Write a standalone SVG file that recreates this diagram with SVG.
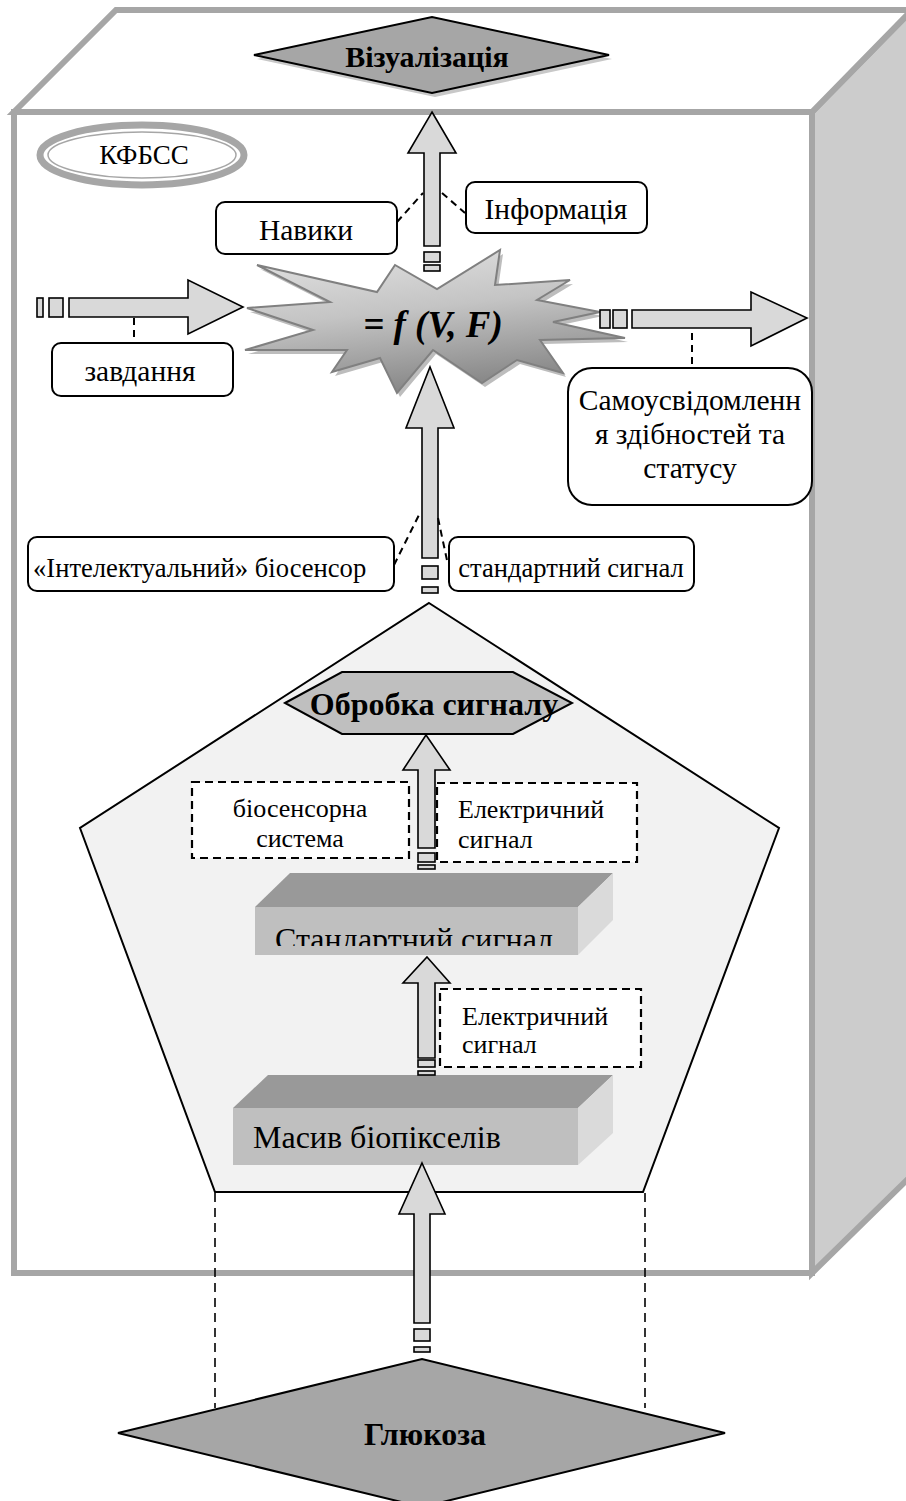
<svg xmlns="http://www.w3.org/2000/svg" width="906" height="1501" viewBox="0 0 906 1501" font-family="'Liberation Serif', 'DejaVu Serif', serif">
<style>
text{font-family:'Liberation Serif','DejaVu Serif',serif;fill:#000}
.lbl{font-size:29.5px;text-anchor:middle}
.sm{font-size:26.6px}
.d{font-size:26px}
.b{font-weight:bold}
.box{fill:#fff;stroke:#000;stroke-width:2}
.dbox{fill:#fff;stroke:#000;stroke-width:2.2;stroke-dasharray:8,5}
.arr{fill:#d9d9d9;stroke:#000;stroke-width:1.6}
.dash{fill:none;stroke:#000;stroke-width:2;stroke-dasharray:7,5}
.dashthin{fill:none;stroke:#000;stroke-width:1.6;stroke-dasharray:9,6}
.frame{stroke:#a6a6a6;stroke-width:6;stroke-linejoin:miter}
</style>
<defs>
<linearGradient id="starg" x1="0" y1="0" x2="0.3" y2="1">
<stop offset="0" stop-color="#e4e4e4"/>
<stop offset="0.5" stop-color="#c4c4c4"/>
<stop offset="1" stop-color="#8a8a8a"/>
</linearGradient>
<clipPath id="clipStd"><rect x="255" y="907" width="323" height="39"/></clipPath>
</defs>

<g id="frame">
<polygon class="frame" points="812,112 912,10 912,1175 812,1273" fill="#cccccc"/>
<polygon class="frame" points="116,10 912,10 812,112 14,112" fill="#ffffff"/>
<rect class="frame" x="14" y="112" width="798" height="1161" fill="#ffffff"/>
</g>

<g id="vizualizatsiya">
<polygon points="257,59 435,21 612,59 435,97" fill="#c8c8c8"/>
<polygon points="254,55 432,17 609,55 432,93" fill="#a6a6a6" stroke="#000" stroke-width="2"/>
<text class="b" x="427" y="67" font-size="30" text-anchor="middle">Візуалізація</text>
</g>

<g id="kfbss">
<ellipse cx="142" cy="155" rx="102" ry="30" fill="#fff" stroke="#a6a6a6" stroke-width="7"/>
<ellipse cx="142" cy="155" rx="94" ry="23" fill="none" stroke="#a6a6a6" stroke-width="1.5"/>
<text x="144" y="164" font-size="27" text-anchor="middle">КФБСС</text>
</g>

<g id="pentagon">
<polygon points="429,603 779,828 643,1192 215,1192 80,828" fill="#f2f2f2" stroke="#000" stroke-width="2"/>
</g>

<g id="star">
<polygon transform="translate(3,4)" fill="#bdbdbd" points="247,308 330,302 257,265 377,292 395,265 437,289 500,250 495,285 570,280 537,300 600,312 553,322 625,338 540,340 563,373 517,360 482,383 433,350 397,393 380,358 332,372 347,350 245,350 313,330"/>
<polygon fill="url(#starg)" stroke="#808080" stroke-width="2" points="247,308 330,302 257,265 377,292 395,265 437,289 500,250 495,285 570,280 537,300 600,312 553,322 625,338 540,340 563,373 517,360 482,383 433,350 397,393 380,358 332,372 347,350 245,350 313,330"/>
<text x="433" y="337" font-size="37" font-weight="bold" font-style="italic" text-anchor="middle">= f (V, F)</text>
</g>

<g id="navyky">
<rect class="box" x="216" y="202" width="181" height="52" rx="9"/>
<text class="lbl" x="306" y="240">Навики</text>
</g>

<g id="informatsiya">
<rect class="box" x="466" y="182" width="181" height="51" rx="9"/>
<text class="lbl" x="556" y="219">Інформація</text>
</g>

<g id="zavdannya">
<rect class="box" x="52" y="343" width="181" height="53" rx="9"/>
<text class="lbl" x="140" y="381">завдання</text>
</g>

<g id="samousvidomlennya">
<rect class="box" x="568" y="368" width="244" height="137" rx="24"/>
<text class="lbl" x="690" y="410">Самоусвідомленн</text>
<text class="lbl" x="690" y="444">я здібностей та</text>
<text class="lbl" x="690" y="478">статусу</text>
</g>

<g id="intelektualnyi">
<rect class="box" x="28" y="537" width="366" height="54" rx="9"/>
<text class="sm" x="33" y="577">«Інтелектуальний» біосенсор</text>
</g>

<g id="standartnyi-label">
<rect class="box" x="449" y="537" width="245" height="54" rx="9"/>
<text class="sm" x="571" y="577" text-anchor="middle">стандартний сигнал</text>
</g>

<g id="obrobka">
<polygon points="285,703 342,672 513,672 572,703 513,734 342,734" fill="#bfbfbf" stroke="#000" stroke-width="2"/>
<text class="b" x="434" y="715" font-size="32" text-anchor="middle">Обробка сигналу</text>
</g>

<g id="biosensorna">
<rect class="dbox" x="192" y="782" width="217" height="76"/>
<text class="d" x="300" y="817" text-anchor="middle">біосенсорна</text>
<text class="d" x="300" y="847" text-anchor="middle">система</text>
</g>

<g id="elektrychnyi1">
<rect class="dbox" x="437" y="783" width="200" height="79"/>
<text class="d" x="458" y="818">Електричний</text>
<text class="d" x="458" y="848">сигнал</text>
</g>

<g id="standartnyi">
<polygon points="255,907 290,873 613,873 578,907" fill="#999999"/>
<polygon points="578,907 613,873 613,920 578,955" fill="#dadada"/>
<rect x="255" y="907" width="323" height="48" fill="#bfbfbf"/>
<text x="275" y="950" font-size="32" clip-path="url(#clipStd)">Стандартний сигнал</text>
</g>

<g id="elektrychnyi2">
<rect class="dbox" x="440" y="989" width="201" height="78"/>
<text class="d" x="462" y="1025">Електричний</text>
<text class="d" x="462" y="1053">сигнал</text>
</g>

<g id="masyv">
<polygon points="233,1108 268,1075 613,1075 578,1108" fill="#999999"/>
<polygon points="578,1108 613,1075 613,1133 578,1165" fill="#dadada"/>
<rect x="233" y="1108" width="345" height="57" fill="#bfbfbf"/>
<text x="253" y="1148" font-size="32">Масив біопікселів</text>
</g>

<g id="hlyukoza">
<polygon points="118,1433 422,1359 725,1433 422,1507" fill="#a6a6a6" stroke="#000" stroke-width="2"/>
<text class="b" x="425" y="1445" font-size="32" text-anchor="middle">Глюкоза</text>
</g>

<g id="connectors">
<path class="arr" d="M432,112 L456,153 L440,153 L440,246 L424,246 L424,153 L408,153 Z"/>
<rect class="arr" x="424" y="252" width="16" height="10"/>
<rect class="arr" x="424" y="265" width="16" height="6"/>
<path class="arr" d="M430,367 L454,428 L438,428 L438,558 L422,558 L422,428 L406,428 Z"/>
<rect class="arr" x="422" y="566" width="16" height="13"/>
<rect class="arr" x="422" y="587" width="16" height="6"/>
<path class="arr" d="M426,735 L450,770 L435,770 L435,848 L418,848 L418,770 L403,770 Z"/>
<rect class="arr" x="418" y="853" width="17" height="9"/>
<rect class="arr" x="418" y="865" width="17" height="4"/>
<path class="arr" d="M427,957 L450,983 L435,983 L435,1058 L418,1058 L418,983 L403,983 Z"/>
<rect class="arr" x="418" y="1060" width="17" height="7"/>
<rect class="arr" x="418" y="1071" width="17" height="4"/>
<path class="arr" d="M422,1163 L445,1214 L430,1214 L430,1323 L414,1323 L414,1214 L399,1214 Z"/>
<rect class="arr" x="414" y="1329" width="16" height="12"/>
<rect class="arr" x="414" y="1347" width="16" height="5"/>
<path class="arr" d="M243,307 L188,334 L188,317 L69,317 L69,298 L188,298 L188,280 Z"/>
<rect class="arr" x="37" y="298" width="6" height="19"/>
<rect class="arr" x="49" y="298" width="14" height="19"/>
<path class="arr" d="M807,318 L751,346 L751,328 L632,328 L632,310 L751,310 L751,292 Z"/>
<rect class="arr" x="600" y="310" width="10" height="18"/>
<rect class="arr" x="613" y="310" width="14" height="18"/>
<line class="dash" x1="134" y1="318" x2="134" y2="342"/>
<line class="dash" x1="692" y1="333" x2="692" y2="366"/>
<line class="dash" x1="397" y1="222" x2="423" y2="193"/>
<line class="dash" x1="442" y1="193" x2="465" y2="213"/>
<line class="dash" x1="394" y1="565" x2="420" y2="513"/>
<line class="dash" x1="438" y1="518" x2="448" y2="565"/>
<line class="dashthin" x1="215" y1="1193" x2="215" y2="1408"/>
<line class="dashthin" x1="645" y1="1193" x2="645" y2="1408"/>
</g>
</svg>
